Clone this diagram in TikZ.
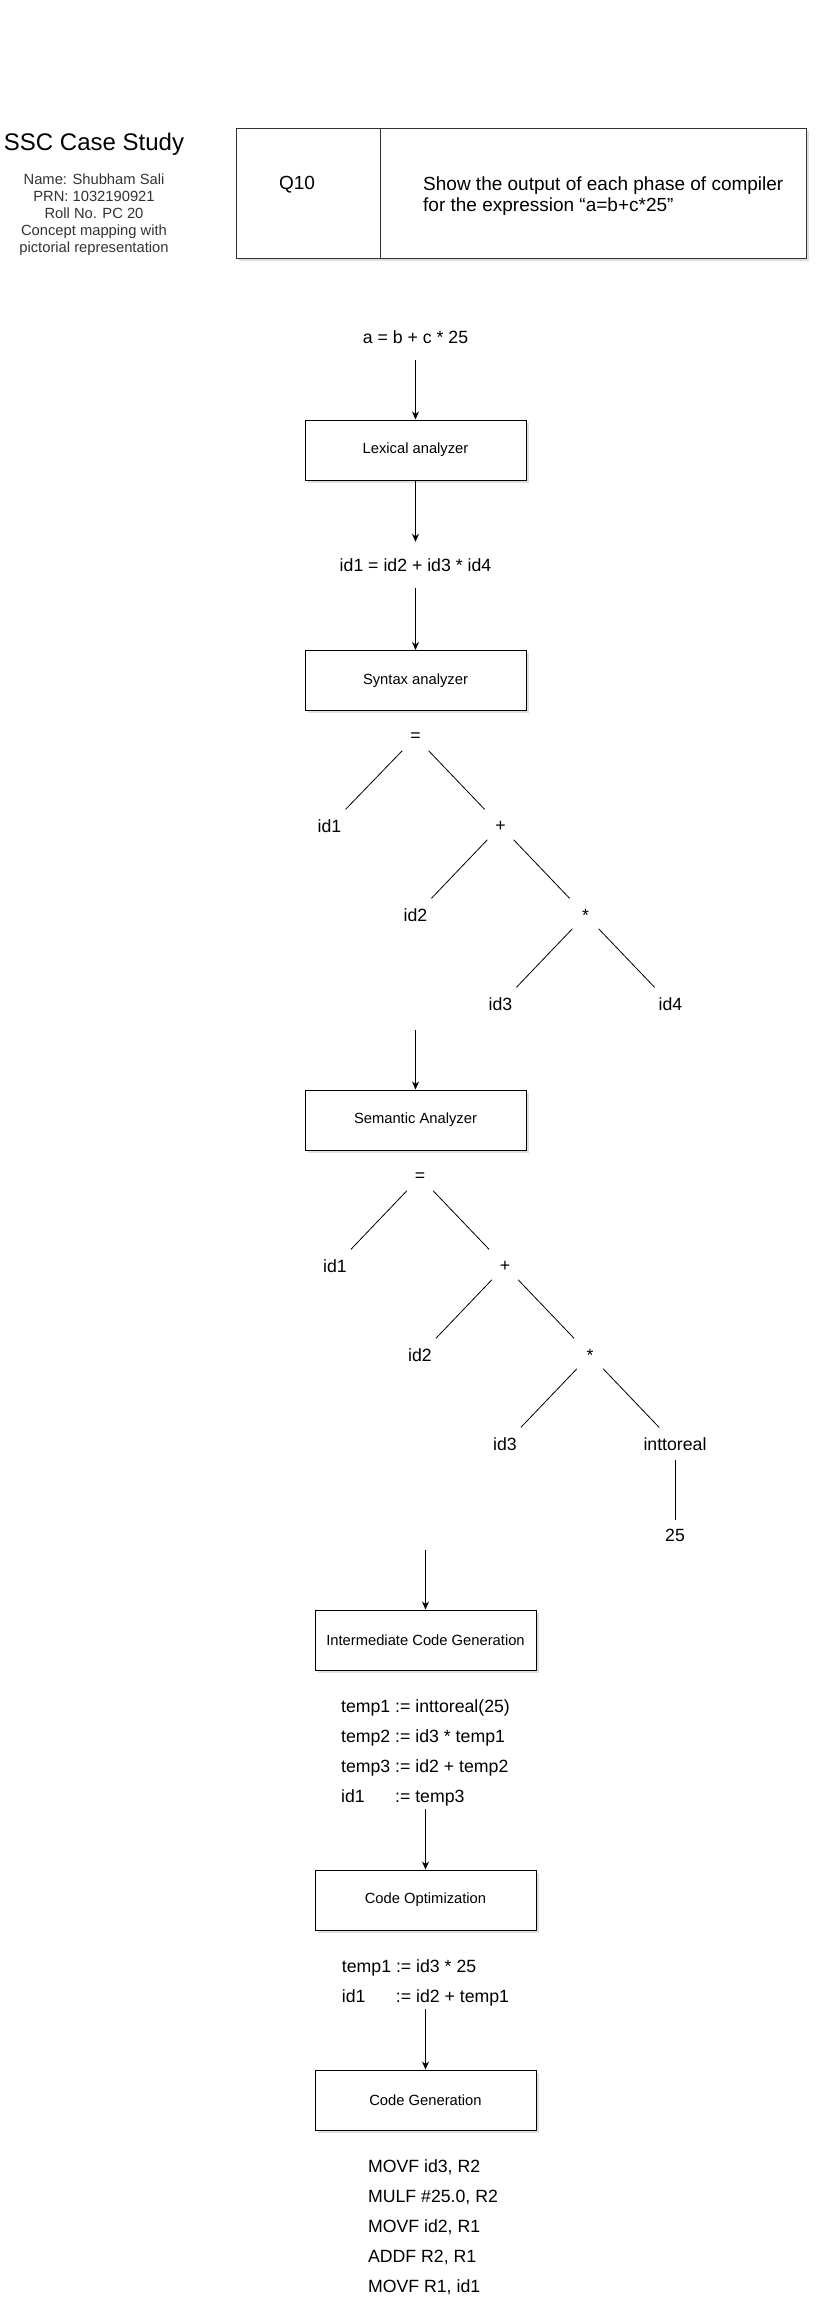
\documentclass[tikz,border=0pt]{standalone}
\usepackage{fontspec}
\setmainfont{Liberation Sans}
\usetikzlibrary{arrows.meta,positioning,shadows}

\begin{document}
\begin{tikzpicture}[
x=1pt, y=1pt, on grid,
phasebox/.style={draw, line width=1pt, fill=white, minimum width=221pt, minimum height=60pt, font=\fontsize{14.75}{17}\selectfont, drop shadow={shadow xshift=2.5pt, shadow yshift=-2.5pt, opacity=0.25}},
cellbox/.style={draw=black!80, line width=1pt, fill=white, minimum height=130pt, anchor=north west, drop shadow={shadow xshift=2.5pt, shadow yshift=-2.5pt, opacity=0.25}},
exprtext/.style={font=\fontsize{17.7}{21}\selectfont, minimum height=46pt},
codetext/.style={font=\fontsize{17.7}{30}\selectfont, align=left, inner sep=3pt},
treetext/.style={font=\fontsize{17.7}{21}\selectfont, inner sep=2pt},
treeline/.style={line width=0.8pt, shorten <=19pt, shorten >=23pt},
arrow/.style={-{Stealth[length=8pt,width=7pt,inset=2.5pt]}, line width=1pt}
]
\useasboundingbox (0,0) rectangle (823,-2312);

% header
\node[font=\fontsize{24}{28}\selectfont] (title) at (94,-144) {SSC Case Study};
\node[font=\fontsize{14.75}{17}\selectfont, align=center, text=black!80, below=71pt of title] (info) {Name: Shubham Sali\\PRN: 1032190921\\Roll No. PC 20\\Concept mapping with\\pictorial representation};
\node[cellbox, minimum width=144pt] (qcell) at (236,-128) {};
\node[cellbox, minimum width=426pt] (qtextcell) at (380,-128) {};
\node[font=\fontsize{19}{21}\selectfont] (qno) at (297,-185) {Q10};
\node[font=\fontsize{19}{21}\selectfont, align=left, anchor=west, inner sep=3pt] (qtext) at (420,-196) {Show the output of each phase of compiler\\for the expression “a=b+c*25”};

% analysis phases
\node[exprtext] (src) at (415.5,-337) {a = b + c * 25};
\node[phasebox, below=113pt of src] (lex) {Lexical analyzer};
\node[exprtext, below=115pt of lex] (tokens) {id1 = id2 + id3 * id4};
\node[phasebox, below=115.5pt of tokens] (syn) {Syntax analyzer};

% syntax tree
\node[treetext, below=56.5pt of syn] (eqa) {=};
\node[treetext, below left=89pt and 86pt of eqa] (ida) {id1};
\node[treetext, below right=89pt and 85pt of eqa] (plusa) {+};
\node[treetext, below left=89pt and 85pt of plusa] (idb) {id2};
\node[treetext, below right=89pt and 85pt of plusa] (stara) {*};
\node[treetext, below left=89pt and 85pt of stara] (idc) {id3};
\node[treetext, below right=89pt and 85pt of stara] (idd) {id4};

\node[phasebox, below=439.5pt of syn] (sem) {Semantic Analyzer};
\coordinate[above=60pt of sem.north] (semin);

% annotated tree
\node[treetext, below right=57pt and 4.5pt of sem] (eqb) {=};
\node[treetext, below left=89pt and 85pt of eqb] (idbb) {id1};
\node[treetext, below right=89pt and 85pt of eqb] (plusb) {+};
\node[treetext, below left=89pt and 85pt of plusb] (idbc) {id2};
\node[treetext, below right=89pt and 85pt of plusb] (starb) {*};
\node[treetext, below left=89pt and 85pt of starb] (idbd) {id3};
\node[treetext, below right=89pt and 85pt of starb] (real) {inttoreal};
\node[treetext, below=91pt of real] (num) {25};

% synthesis phases
\node[phasebox, below right=520pt and 10pt of sem] (icg) {Intermediate Code Generation};
\coordinate[above=60pt of icg.north] (icgin);
\node[codetext, below=113pt of icg] (icgcode) {temp1 := inttoreal(25)\\temp2 := id3 * temp1\\temp3 := id2 + temp2\\\makebox[54pt][l]{id1}:= temp3};
\node[phasebox, below=260pt of icg] (opt) {Code Optimization};
\node[codetext, below=83pt of opt] (optcode) {temp1 := id3 * 25\\\makebox[54pt][l]{id1}:= id2 + temp1};
\node[phasebox, below=200pt of opt] (cg) {Code Generation};
\node[codetext, below right=127pt and 7.5pt of cg] (cgcode) {MOVF id3, R2\\MULF \#25.0, R2\\MOVF id2, R1\\ADDF R2, R1\\MOVF R1, id1};

\draw[arrow] (src) -- (lex);
\draw[arrow] (lex) -- (tokens);
\draw[arrow] (tokens) -- (syn);
\draw[treeline] (eqa.center) -- (ida.center);
\draw[treeline] (eqa.center) -- (plusa.center);
\draw[treeline] (plusa.center) -- (idb.center);
\draw[treeline] (plusa.center) -- (stara.center);
\draw[treeline] (stara.center) -- (idc.center);
\draw[treeline] (stara.center) -- (idd.center);
\draw[arrow] (semin) -- (sem);
\draw[treeline] (eqb.center) -- (idbb.center);
\draw[treeline] (eqb.center) -- (plusb.center);
\draw[treeline] (plusb.center) -- (idbc.center);
\draw[treeline] (plusb.center) -- (starb.center);
\draw[treeline] (starb.center) -- (idbd.center);
\draw[treeline] (starb.center) -- (real.center);
\draw[treeline, shorten <=16pt, shorten >=15pt] (real.center) -- (num.center);
\draw[arrow] (icgin) -- (icg);
\draw[arrow] (icgcode) -- (opt);
\draw[arrow] (optcode) -- (cg);
\end{tikzpicture}
\end{document}
